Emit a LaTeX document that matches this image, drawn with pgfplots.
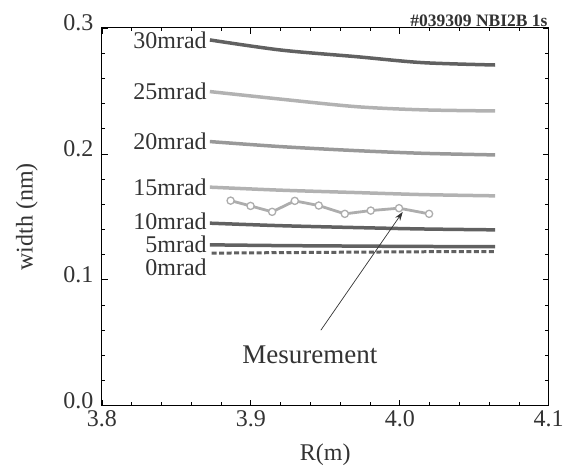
\documentclass[border=0pt]{standalone}
\usepackage{fontspec}
\setmainfont{Liberation Serif}
\usepackage{pgfplots}
\pgfplotsset{compat=1.18}
\usetikzlibrary{arrows.meta}

\definecolor{cdark}{gray}{0.38}
\definecolor{cmid}{gray}{0.60}
\definecolor{clight}{gray}{0.70}
\definecolor{cmeas}{gray}{0.68}

\begin{document}
\begin{tikzpicture}
\begin{axis}[
  width=447pt, height=378pt, scale only axis,
  xmin=3.8, xmax=4.1, ymin=0, ymax=0.3,
  xtick={3.8,3.9,4.0,4.1}, ytick={0,0.1,0.2,0.3},
  minor x tick num=4, minor y tick num=4,
  tick align=inside, major tick length=6pt, minor tick length=3.5pt,
  tick style={black, line width=0.8pt},
  axis line style={line width=1pt},
  tick label style={font=\fontsize{24}{26}\selectfont, text=black!80},
  xticklabel style={yshift=-1pt, /pgf/number format/.cd, fixed, fixed zerofill, precision=1, assume math mode=true},
  yticklabel style={xshift=-5pt, yshift=5pt, /pgf/number format/.cd, fixed, fixed zerofill, precision=1, assume math mode=true},
  xlabel={R(m)}, ylabel={width (nm)},
  label style={font=\fontsize{24}{28}\selectfont, text=black!80},
  xlabel style={at={(axis description cs:0.5,-0.13)}, anchor=center},
  ylabel style={at={(axis description cs:-0.168,0.5)}, anchor=center},
  clip=false,
]
% 30 mrad
\addplot[cdark, line width=3.5pt, smooth] coordinates {(3.8725,0.2905) (3.92,0.2825) (3.971,0.2772) (4.015,0.2725) (4.064,0.2706)};
% 25 mrad
\addplot[clight, line width=3.5pt, smooth] coordinates {(3.8725,0.2495) (3.92,0.2435) (3.971,0.2375) (4.015,0.2350) (4.064,0.2341)};
% 20 mrad
\addplot[cmid, line width=3.5pt, smooth] coordinates {(3.8725,0.2098) (3.92,0.2058) (3.971,0.2026) (4.015,0.2005) (4.064,0.1992)};
% 15 mrad
\addplot[clight, line width=3.5pt, smooth] coordinates {(3.8725,0.1736) (3.92,0.1712) (3.971,0.1693) (4.015,0.1677) (4.064,0.1667)};
% 10 mrad
\addplot[cdark, line width=3.5pt, smooth] coordinates {(3.8725,0.1450) (3.92,0.1430) (3.971,0.1415) (4.015,0.1404) (4.064,0.1397)};
% 5 mrad
\addplot[cdark, line width=3.5pt, smooth] coordinates {(3.8725,0.1278) (3.92,0.1272) (3.971,0.1268) (4.015,0.1265) (4.064,0.1264)};
% 0 mrad
\addplot[cdark, line width=3pt, dash pattern=on 5pt off 2.5pt] coordinates {(3.8736,0.1212) (3.92,0.1216) (3.971,0.1220) (4.015,0.1223) (4.064,0.1225)};
% measurement
\addplot[cmeas, line width=2.8pt, mark=*, mark size=3.6pt,
  mark options={fill=white, draw=cmeas, line width=1.3pt}] coordinates {
  (3.8864,0.1629) (3.8998,0.1587) (3.9143,0.1540) (3.9295,0.1627) (3.9456,0.1590)
  (3.9631,0.1524) (3.9805,0.1550) (3.9995,0.1569) (4.0197,0.1524)};

\begin{scope}[every node/.style={font=\fontsize{24}{24}\selectfont, text=black!80, anchor=east, inner sep=0pt}]
\node at (axis cs:3.8705,0.2905) {30mrad};
\node at (axis cs:3.8705,0.2495) {25mrad};
\node at (axis cs:3.8705,0.2098) {20mrad};
\node at (axis cs:3.8705,0.1736) {15mrad};
\node at (axis cs:3.8705,0.1465) {10mrad};
\node at (axis cs:3.8705,0.1280) {5mrad};
\node at (axis cs:3.8705,0.1100) {0mrad};
\end{scope}

\node[font=\fontsize{27}{30}\selectfont, text=black!80] at (axis cs:3.9396,0.0405) {Mesurement};
\draw[black!80, line width=0.7pt, -{Stealth[length=9pt,width=6pt]}] (axis cs:3.947,0.060) -- (axis cs:4.002,0.154);

\node[font=\bfseries\fontsize{17.5}{20}\selectfont, text=black!80, anchor=south east, inner sep=1pt] at (rel axis cs:1,1) {\#039309 NBI2B 1s};
\path (rel axis cs:0,0) ++(-102pt,-68pt) coordinate (bbA);
\path (rel axis cs:1,1) ++(18pt,28pt) coordinate (bbB);
\end{axis}
\path[use as bounding box] (bbA) rectangle (bbB);
\end{tikzpicture}
\end{document}
